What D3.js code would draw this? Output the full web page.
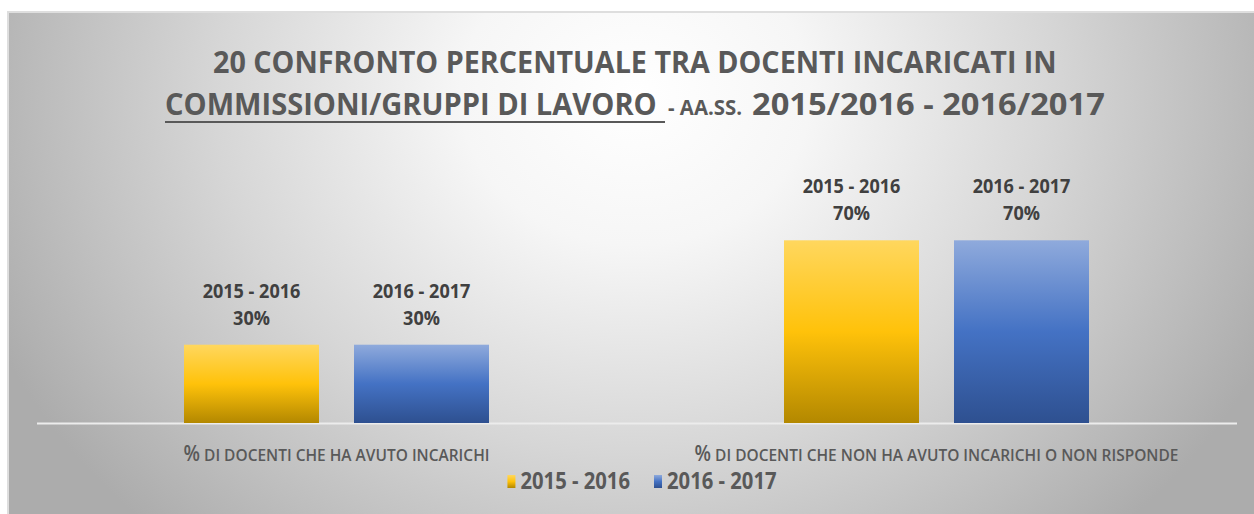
<!DOCTYPE html>
<html>
<head>
<meta charset="utf-8">
<script src="https://cdn.jsdelivr.net/npm/d3@7"></script>
<style>
  html, body { margin: 0; padding: 0; background: #ffffff; }
  svg { display: block; }
  text { font-family: "Open Sans", "DejaVu Sans", sans-serif; white-space: pre; }
</style>
</head>
<body>
<svg id="chart" width="1254" height="514"></svg>
<script>
// ---- data ----
const categories = [
  "% di docenti che ha avuto incarichi",
  "% di docenti che non ha avuto incarichi o non risponde"
];
const seriesNames = ["2015 - 2016", "2016 - 2017"];
const values2015 = [0.30, 0.70];
const values2016 = [0.30, 0.70];
const titleLine1 = "20 CONFRONTO PERCENTUALE TRA DOCENTI INCARICATI IN";
const titleLine2Parts = ["COMMISSIONI/GRUPPI DI LAVORO", "- aa.ss.", "2015/2016 - 2016/2017"];

const seriesValues = [values2015, values2016];
const rows = categories.map((c, i) => ({
  category: c,
  values: seriesNames.map((s, j) => ({ series: s, value: seriesValues[j][i], cat: c }))
}));

// ---- layout ----
const W = 1254, H = 514;
const frame = { x: 7, y: 11 };
const plot = { left: 36.5, right: 1236.5, top: 162, bottom: 423 };

const svg = d3.select("#chart");
const defs = svg.append("defs");

// chart background: soft radial shading, white near the title
const bg = defs.append("radialGradient")
  .attr("id", "bgGrad")
  .attr("gradientUnits", "userSpaceOnUse")
  .attr("cx", 0).attr("cy", 0).attr("r", 1)
  .attr("gradientTransform", "translate(635,95) scale(700,600)");
[[0, "#ffffff"], [0.25, "#f6f6f6"], [0.6, "#d6d6d6"], [0.85, "#bcbcbc"], [1, "#acacac"]]
  .forEach(([o, c]) => bg.append("stop").attr("offset", o).attr("stop-color", c));

// bar fills: lighter at the top, deeper at the base
const barGradients = {
  "2015 - 2016": [[0, "#ffd75e"], [0.5, "#ffc20a"], [1, "#b38800"]],
  "2016 - 2017": [[0, "#8faadc"], [0.5, "#4472c4"], [1, "#2e5090"]]
};
seriesNames.forEach((s, i) => {
  const g = defs.append("linearGradient")
    .attr("id", "barGrad" + i)
    .attr("x1", 0).attr("y1", 0).attr("x2", 0).attr("y2", 1);
  barGradients[s].forEach(([o, c]) => g.append("stop").attr("offset", o).attr("stop-color", c));
});
const fillFor = s => "url(#barGrad" + seriesNames.indexOf(s) + ")";

svg.append("rect")
  .attr("x", frame.x).attr("y", frame.y)
  .attr("width", W - frame.x).attr("height", H - frame.y)
  .attr("fill", "url(#bgGrad)");
svg.append("path")
  .attr("d", `M${frame.x + 1},${H} V${frame.y + 1} H${W}`)
  .attr("fill", "none").attr("stroke", "#dedede").attr("stroke-width", 2);

// ---- scales ----
const x0 = d3.scaleBand().domain(categories).range([plot.left, plot.right]).padding(0);
const clusterWidth = 305;
const x1 = d3.scaleBand().domain(seriesNames).range([0, clusterWidth]).paddingInner(35 / 170).paddingOuter(0);
const clusterOffset = (x0.bandwidth() - clusterWidth) / 2;
const y = d3.scaleLinear().domain([0, 1]).range([plot.bottom, plot.top]);

// ---- horizontally condensed text helper ----
function condensed(parent, x, yPos, sx, size, weight, color, anchor) {
  const g = parent.append("g").attr("transform", `translate(${x},${yPos}) scale(${sx},1)`);
  return g.append("text")
    .attr("text-anchor", anchor || "middle")
    .attr("font-size", size)
    .attr("font-weight", weight)
    .attr("fill", color);
}
// squeeze a left-anchored text so that it spans [x, x + width]
function fitSpan(parent, x, yPos, width, size, color, str) {
  const t = condensed(parent, x, yPos, 1, size, 700, color, "start").text(str);
  const sx = width / t.node().getComputedTextLength();
  d3.select(t.node().parentNode).attr("transform", `translate(${x},${yPos}) scale(${sx},1)`);
  return t;
}

// ---- title ----
const titleColor = "#595959";
const titleSize = 31;
fitSpan(svg, 213, 73, 844, titleSize, titleColor, titleLine1);
fitSpan(svg, 165, 115, 492, titleSize, titleColor, titleLine2Parts[0]);
fitSpan(svg, 668, 115, 74, titleSize * 0.66, titleColor, titleLine2Parts[1].toUpperCase());
fitSpan(svg, 752, 115, 353, titleSize, titleColor, titleLine2Parts[2]);
svg.append("line")
  .attr("x1", 165).attr("x2", 665).attr("y1", 122).attr("y2", 122)
  .attr("stroke", titleColor).attr("stroke-width", 2);

// ---- category axis ----
const axisG = svg.append("g")
  .attr("transform", `translate(0,${y(0)})`)
  .call(d3.axisBottom(x0).tickSize(0).tickFormat(""));
axisG.select(".domain").attr("stroke", "#ececec").attr("stroke-width", 2);

categories.forEach(c => {
  const t = condensed(svg, x0(c) + x0.bandwidth() / 2, 461, 0.91, 21, 600, "#595959");
  t.append("tspan").text(c.charAt(0));
  t.append("tspan").attr("font-size", 17).text(c.slice(1).toUpperCase());
});

// ---- bars ----
const groups = svg.append("g").selectAll("g.cluster")
  .data(rows).join("g")
  .attr("class", "cluster")
  .attr("transform", d => `translate(${x0(d.category) + clusterOffset},0)`);

groups.selectAll("rect")
  .data(d => d.values).join("rect")
  .attr("x", d => x1(d.series))
  .attr("width", x1.bandwidth())
  .attr("y", d => y(d.value))
  .attr("height", d => y(0) - y(d.value))
  .attr("fill", d => fillFor(d.series));

// ---- data labels: series name + percentage ----
const pct = d3.format(".0%");
groups.each(function (d) {
  const g = d3.select(this);
  d.values.forEach(v => {
    const cx = x1(v.series) + x1.bandwidth() / 2;
    condensed(g, cx, y(v.value) - 47, 0.95, 19, 700, "#404040").text(v.series);
    condensed(g, cx, y(v.value) - 20, 0.95, 19, 700, "#404040").text(pct(v.value));
  });
});

// ---- legend ----
const legendG = svg.append("g");
const legendSx = 0.88;
let cursor = 0;
const items = [];
seriesNames.forEach((s, i) => {
  const item = legendG.append("g");
  item.append("rect")
    .attr("x", 0).attr("y", -14).attr("width", 8).attr("height", 13)
    .attr("fill", fillFor(s));
  const t = condensed(item, 13, 0, legendSx, 23, 700, "#595959", "start").text(s);
  const w = 13 + t.node().getComputedTextLength() * legendSx;
  items.push({ item, x: cursor });
  cursor += w + 24;
});
const legendWidth = cursor - 24;
const legendLeft = 642 - legendWidth / 2;
items.forEach(({ item, x }) => item.attr("transform", `translate(${legendLeft + x},489)`));
</script>
</body>
</html>
